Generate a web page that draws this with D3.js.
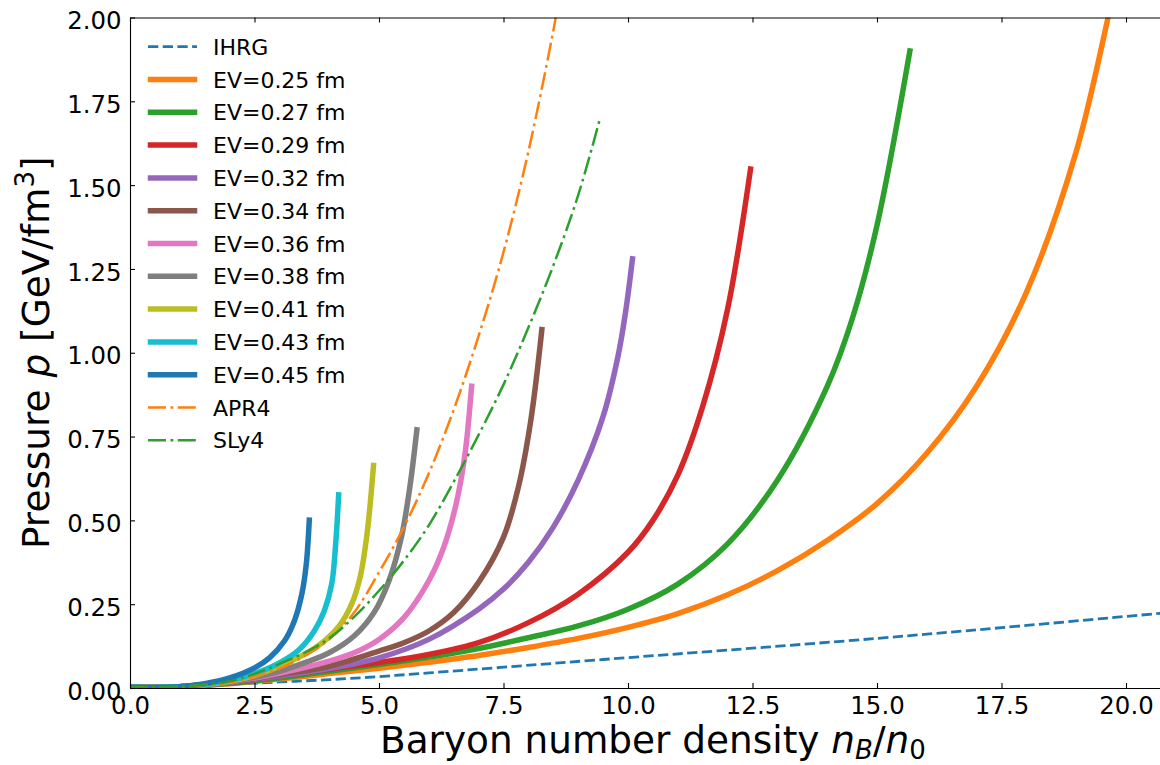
<!DOCTYPE html>
<html>
<head>
<meta charset="utf-8">
<script src="https://cdn.jsdelivr.net/npm/d3@7"></script>
<style>
  body { margin: 0; background: #fff; }
  svg { font-family: "DejaVu Sans", sans-serif; }
</style>
</head>
<body>
<script>
// axis ticks
const xTicks = [0, 2.5, 5, 7.5, 10, 12.5, 15, 17.5, 20];
const yTicks = [0, 0.25, 0.5, 0.75, 1.0, 1.25, 1.5, 1.75, 2.0];

// curves, [nB/n0, p]
const ihrg = [[0,0.001],[1,0.004],[2,0.011],[3,0.018],[4,0.025],[5,0.034],[6,0.045],[7.5,0.062],[9.5,0.085],[12,0.113],[15,0.148],[17.5,0.18],[20.7,0.223],[21,0.227]];
const ev025 = [[0,0.002],[1,0.004],[2,0.013],[3,0.027],[4,0.043],[5,0.059],[6,0.077],[7,0.097],[8,0.121],[9,0.148],[10,0.181],[11,0.222],[12,0.278],[13,0.35],[14,0.44],[15,0.55],[16,0.70],[17,0.90],[18,1.18],[19,1.60],[19.64,2.0],[19.7,2.04]];
const ev027 = [[0,0.002],[1,0.004],[2,0.014],[3,0.03],[4,0.05],[5,0.07],[6,0.092],[7,0.118],[8,0.15],[9,0.185],[10,0.235],[11,0.31],[12,0.43],[13,0.62],[14,0.9],[14.5,1.1],[15,1.38],[15.66,1.9]];
const ev029 = [[0,0.002],[1,0.004],[2,0.016],[3,0.035],[4,0.056],[5,0.076],[6,0.1],[7,0.135],[8,0.195],[9,0.28],[10,0.405],[10.5,0.5],[11,0.635],[11.5,0.84],[12,1.13],[12.46,1.548]];
const ev032 = [[0,0.002],[1,0.004],[2,0.016],[3,0.036],[4,0.058],[5,0.09],[6,0.145],[7,0.235],[7.5,0.295],[8,0.375],[8.5,0.48],[9,0.62],[9.5,0.81],[9.8,0.99],[9.95,1.12],[10.09,1.28]];
const ev034 = [[0,0.002],[1,0.004],[2,0.017],[3,0.04],[4,0.065],[5,0.11],[5.5,0.135],[6,0.17],[6.5,0.225],[7,0.315],[7.5,0.45],[7.8,0.6],[8.05,0.8],[8.27,1.069]];
const ev036 = [[0,0.002],[1,0.004],[2,0.018],[3,0.044],[4,0.08],[4.5,0.105],[5,0.145],[5.5,0.21],[6,0.32],[6.3,0.42],[6.55,0.55],[6.72,0.69],[6.86,0.90]];
const ev038 = [[0,0.002],[1,0.004],[2,0.018],[3,0.05],[3.5,0.075],[4,0.105],[4.5,0.155],[4.9,0.225],[5.2,0.32],[5.45,0.45],[5.62,0.6],[5.76,0.77]];
const ev041 = [[0,0.002],[1,0.004],[2,0.02],[2.5,0.037],[3,0.065],[3.5,0.1],[3.9,0.14],[4.2,0.185],[4.45,0.25],[4.62,0.33],[4.76,0.46],[4.89,0.664]];
const ev043 = [[0,0.002],[1,0.004],[2,0.022],[2.5,0.043],[3,0.075],[3.4,0.115],[3.7,0.17],[3.9,0.23],[4.05,0.31],[4.13,0.43],[4.19,0.576]];
const ev045 = [[0,0.002],[1,0.004],[1.5,0.013],[2,0.03],[2.5,0.06],[2.8,0.09],[3.1,0.14],[3.3,0.2],[3.45,0.28],[3.54,0.37],[3.6,0.501]];
const apr4 = [[0,0.002],[1,0.004],[2,0.017],[2.5,0.034],[3,0.058],[3.5,0.095],[4,0.145],[4.5,0.225],[5,0.345],[5.5,0.48],[6,0.64],[6.5,0.83],[7,1.05],[7.5,1.3],[8,1.6],[8.5,1.96],[8.56,2.01]];
const sly4 = [[0,0.002],[1,0.004],[2,0.02],[2.5,0.042],[3,0.072],[3.5,0.105],[4,0.148],[4.5,0.212],[5,0.29],[5.5,0.38],[6,0.485],[6.5,0.615],[7,0.755],[7.5,0.905],[8,1.075],[8.5,1.26],[9,1.47],[9.44,1.7]];

const labels = ["IHRG","EV=0.25 fm","EV=0.27 fm","EV=0.29 fm","EV=0.32 fm","EV=0.34 fm","EV=0.36 fm","EV=0.38 fm","EV=0.41 fm","EV=0.43 fm","EV=0.45 fm","APR4","SLy4"];
const curves = [ihrg, ev025, ev027, ev029, ev032, ev034, ev036, ev038, ev041, ev043, ev045, apr4, sly4];
const colors = ["#1f77b4","#ff7f0e","#2ca02c","#d62728","#9467bd","#8c564b","#e377c2","#7f7f7f","#bcbd22","#17becf","#1f77b4","#ff7f0e","#2ca02c"];
const kinds = ["dash","solid","solid","solid","solid","solid","solid","solid","solid","solid","solid","dashdot","dashdot"];

const W = 1160, H = 765;
const mLeft = 130, mTop = 17.5, mBottom = 688;
const x = d3.scaleLinear().domain([0, 21]).range([mLeft, mLeft + 21 * 49.8]);
const y = d3.scaleLinear().domain([0, 2]).range([mBottom, mTop]);

const svg = d3.select("body").append("svg")
    .attr("width", W).attr("height", H);

svg.append("clipPath").attr("id", "plotclip")
  .append("rect")
    .attr("x", mLeft).attr("y", mTop)
    .attr("width", x.range()[1] - mLeft).attr("height", mBottom - mTop);

function styleLine(sel, kind, color) {
  sel.attr("fill", "none").attr("stroke", color);
  if (kind === "dash") {
    sel.attr("stroke-width", 2.8).attr("stroke-dasharray", "10.3,4.4");
  } else if (kind === "dashdot") {
    sel.attr("stroke-width", 2.5).attr("stroke-dasharray", "18,4.5,2.8,4.5");
  } else {
    sel.attr("stroke-width", 5.5).attr("stroke-linecap", "square");
  }
}

const line = d3.line()
    .x(d => x(d[0]))
    .y(d => y(d[1]))
    .curve(d3.curveCatmullRom.alpha(0.5));

const plot = svg.append("g").attr("clip-path", "url(#plotclip)");
curves.forEach((c, i) => {
  plot.append("path")
      .attr("d", line(c))
      .call(styleLine, kinds[i], colors[i]);
});

// axes, ticks pointing inwards
const xAxis = svg.append("g")
    .attr("transform", "translate(0," + mBottom + ")")
    .call(d3.axisBottom(x).tickValues(xTicks).tickSize(-5).tickSizeOuter(0).tickPadding(9)
          .tickFormat(d3.format(".1f")));
const xTop = svg.append("g")
    .attr("transform", "translate(0," + mTop + ")")
    .call(d3.axisTop(x).tickValues(xTicks).tickSize(-5).tickSizeOuter(0).tickFormat(""));
const yAxis = svg.append("g")
    .attr("transform", "translate(" + mLeft + ",0)")
    .call(d3.axisLeft(y).tickValues(yTicks).tickSize(-5).tickSizeOuter(0).tickPadding(8.5)
          .tickFormat(d3.format(".2f")));

[xAxis, xTop, yAxis].forEach(a => {
  a.select(".domain").attr("stroke", "#000").attr("stroke-width", 1.1);
  a.selectAll(".tick line").attr("stroke", "#000").attr("stroke-width", 1.1);
  a.selectAll("text").attr("font-size", 24.4).attr("fill", "#000")
      .attr("font-family", "DejaVu Sans");
});
yAxis.selectAll("text").attr("dy", "0.46em");

// axis titles
const xt = svg.append("text")
    .attr("x", (mLeft + x.range()[1]) / 2).attr("y", 753)
    .attr("text-anchor", "middle").attr("font-size", 37.4);
xt.append("tspan").text("Baryon number density ");
xt.append("tspan").attr("font-style", "italic").text("n");
xt.append("tspan").attr("font-style", "italic").attr("font-size", 26).attr("dy", 5.5).text("B");
xt.append("tspan").attr("dy", -5.5).text("/");
xt.append("tspan").attr("font-style", "italic").text("n");
xt.append("tspan").attr("font-size", 26).attr("dy", 5.5).text("0");

const yt = svg.append("text")
    .attr("transform", "translate(49," + (mTop + mBottom) / 2 + ") rotate(-90)")
    .attr("text-anchor", "middle").attr("font-size", 37.4);
yt.append("tspan").text("Pressure ");
yt.append("tspan").attr("font-style", "italic").text("p");
yt.append("tspan").text(" [GeV/fm");
yt.append("tspan").attr("font-size", 26).attr("dy", -15).text("3");
yt.append("tspan").attr("dy", 15).text("]");

// legend
const legend = svg.append("g");
labels.forEach((lab, i) => {
  const ly = 46.7 + i * 32.8;
  const solid = kinds[i] === "solid";
  legend.append("line")
      .attr("x1", solid ? 150.5 : 148).attr("x2", solid ? 194.5 : 197)
      .attr("y1", ly).attr("y2", ly)
      .call(styleLine, kinds[i], colors[i]);
  legend.append("text")
      .attr("x", 213).attr("y", ly + 8)
      .attr("font-size", 22)
      .text(lab);
});
</script>
</body>
</html>
